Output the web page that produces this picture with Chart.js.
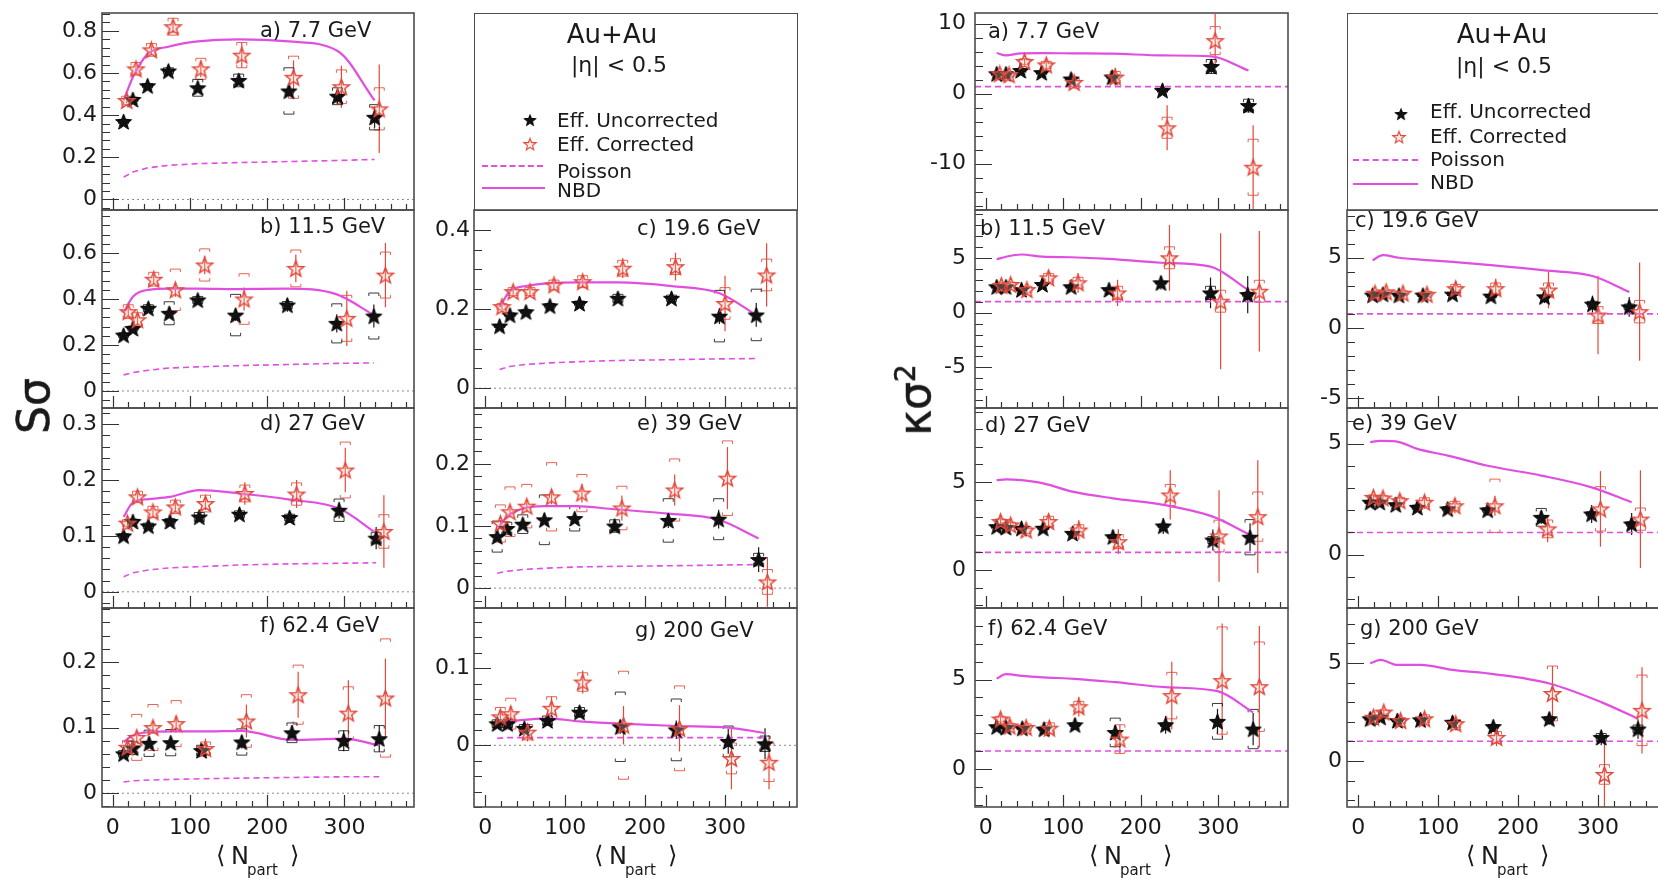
<!DOCTYPE html>
<html>
<head>
<meta charset="utf-8">
<script src="https://cdn.jsdelivr.net/npm/chart.js@4.4.1/dist/chart.umd.min.js"></script>
<style>
    html, body { margin: 0; padding: 0; background: #fff; }
    body { width: 1658px; height: 879px; overflow: hidden; position: relative; font-family: 'DejaVu Sans', sans-serif; color: #1a1a1a; }
    canvas.panel { position: absolute; }
    .box { position: absolute; border: 1.6px solid #4d4d4d; box-sizing: border-box; }
    .txt { position: absolute; white-space: nowrap; line-height: 1; font-size: 20px; }
    .c { transform: translate(-50%, -50%); }
    .l { transform: translateY(-50%); }
    .ln { position: absolute; height: 0; border-top: 2px solid #e04fe0; }
    .ln.dash { border-top-style: dashed; }
    .ytitle { font-size: 44px; transform: translate(-50%, -50%) rotate(-90deg); -webkit-text-stroke: 0.6px #1a1a1a; }
    .ytitle sup { font-size: 28px; vertical-align: 0.55em; line-height: 0; }
    .xt { position: absolute; font-size: 24px; line-height: 1; }
    .xt span { position: absolute; white-space: nowrap; }
    .xt .sub { font-size: 15px; }
    .mark { position: absolute; }
</style>
</head>
<body>

<div class="txt ytitle" style="left:34px; top:406px;">Sσ</div>
<div class="txt ytitle" style="left:915px; top:400px;">κσ<sup>2</sup></div>

<div class="box" style="left:474px; top:13px; width:324px; height:198px;"></div>
<div class="txt c" style="left:612px; top:34px; font-size:26px;">Au+Au</div>
<div class="txt c" style="left:619px; top:65px; font-size:22px;">|η| &lt; 0.5</div>
<div class="txt l" style="left:557px; top:120px;">Eff. Uncorrected</div>
<div class="txt l" style="left:557px; top:144px;">Eff. Corrected</div>
<div class="ln dash" style="left:482px; top:165px; width:61px;"></div>
<div class="txt l" style="left:557px; top:171px;">Poisson</div>
<div class="ln" style="left:482px; top:187px; width:63px;"></div>
<div class="txt l" style="left:557px; top:190px;">NBD</div>

<div class="box" style="left:1347px; top:13px; width:330px; height:198px;"></div>
<div class="txt c" style="left:1502px; top:34px; font-size:26px;">Au+Au</div>
<div class="txt c" style="left:1504px; top:66px; font-size:22px;">|η| &lt; 0.5</div>
<div class="txt l" style="left:1430px; top:111px;">Eff. Uncorrected</div>
<div class="txt l" style="left:1430px; top:136px;">Eff. Corrected</div>
<div class="ln dash" style="left:1353px; top:159px; width:65px;"></div>
<div class="txt l" style="left:1430px; top:159px;">Poisson</div>
<div class="ln" style="left:1353px; top:183px; width:65px;"></div>
<div class="txt l" style="left:1430px; top:182px;">NBD</div>

<script>
// <Npart> per centrality class, peripheral -> central
const npart77 = [14, 26, 45, 72, 110, 163, 228, 291, 339];
const npart115 = [14, 26, 46, 73, 110, 159, 226, 290, 338];
const npart196 = [18, 31, 51, 81, 118, 166, 233, 293, 339];
const npart27 = [14, 26, 46, 74, 112, 164, 229, 293, 341];
const npart39 = [15, 27, 47, 74, 112, 162, 229, 292, 342];
const npart624 = [14, 26, 47, 75, 115, 167, 232, 299, 345];
const npart200 = [15, 28, 49, 78, 118, 169, 239, 304, 350];

// corrected points are plotted slightly shifted in Npart
const npartCor77 = [18, 30, 50, 78, 114, 167, 234, 296, 345];
const npartCor115 = [20, 32, 53, 81, 119, 170, 237, 303, 353];
const npartCor196 = [21, 35, 56, 86, 122, 172, 238, 300, 352];
const npartCor27 = [19, 32, 52, 81, 120, 171, 238, 301, 351];
const npartCor39 = [19, 31, 52, 83, 121, 171, 237, 303, 353];
const npartCor624 = [19, 31, 52, 82, 120, 173, 240, 305, 353];
const npartCor200 = [19, 32, 53, 83, 122, 173, 243, 308, 355];

// S*sigma
const sUnc77 = [0.37, 0.475, 0.54, 0.61, 0.53, 0.565, 0.515, 0.49, 0.39];
const sUncErr77 = [0.01, 0.01, 0.01, 0.015, 0.015, 0.02, 0.025, 0.035, 0.05];
const sUncSys77 = [0.01, 0.01, 0.01, 0.015, 0.04, 0.03, 0.11, 0.04, 0.06];
const sCor77 = [0.47, 0.62, 0.71, 0.82, 0.62, 0.685, 0.58, 0.535, 0.43];
const sCorErr77 = [0.015, 0.02, 0.02, 0.03, 0.04, 0.06, 0.08, 0.1, 0.21];
const sCorSys77 = [0.02, 0.03, 0.03, 0.04, 0.05, 0.06, 0.1, 0.08, 0.1];
const nbdS77 = [0.47, 0.58, 0.69, 0.725, 0.75, 0.76, 0.75, 0.705, 0.47];
const poisS77 = [0.106, 0.13, 0.15, 0.162, 0.17, 0.175, 0.18, 0.185, 0.19];

const sUnc115 = [0.243, 0.272, 0.36, 0.338, 0.396, 0.33, 0.374, 0.294, 0.326];
const sUncErr115 = [0.01, 0.01, 0.012, 0.015, 0.02, 0.025, 0.03, 0.04, 0.05];
const sUncSys115 = [0.01, 0.01, 0.015, 0.05, 0.015, 0.09, 0.015, 0.085, 0.1];
const sCor115 = [0.345, 0.31, 0.486, 0.44, 0.548, 0.40, 0.533, 0.316, 0.504];
const sCorErr115 = [0.02, 0.02, 0.02, 0.03, 0.04, 0.05, 0.06, 0.12, 0.14];
const sCorSys115 = [0.03, 0.03, 0.03, 0.09, 0.07, 0.11, 0.08, 0.1, 0.1];
const nbdS115 = [0.34, 0.41, 0.44, 0.445, 0.445, 0.443, 0.445, 0.42, 0.33];
const poisS115 = [0.07, 0.08, 0.09, 0.1, 0.105, 0.11, 0.115, 0.12, 0.122];

const sUnc196 = [0.157, 0.185, 0.193, 0.208, 0.214, 0.227, 0.227, 0.182, 0.185];
const sUncErr196 = [0.004, 0.004, 0.005, 0.006, 0.007, 0.009, 0.012, 0.02, 0.03];
const sUncSys196 = [0.004, 0.005, 0.005, 0.006, 0.006, 0.01, 0.008, 0.065, 0.065];
const sCor196 = [0.206, 0.244, 0.244, 0.261, 0.269, 0.303, 0.307, 0.214, 0.286];
const sCorErr196 = [0.006, 0.008, 0.01, 0.012, 0.015, 0.025, 0.035, 0.07, 0.08];
const sCorSys196 = [0.008, 0.01, 0.01, 0.012, 0.015, 0.02, 0.02, 0.04, 0.04];
const nbdS196 = [0.205, 0.245, 0.258, 0.265, 0.267, 0.267, 0.258, 0.24, 0.185];
const poisS196 = [0.047, 0.055, 0.06, 0.064, 0.067, 0.07, 0.072, 0.074, 0.075];

const sUnc27 = [0.1, 0.126, 0.118, 0.126, 0.134, 0.139, 0.133, 0.146, 0.096];
const sUncErr27 = [0.004, 0.004, 0.004, 0.005, 0.006, 0.008, 0.01, 0.015, 0.02];
const sUncSys27 = [0.004, 0.004, 0.005, 0.005, 0.008, 0.006, 0.006, 0.02, 0.01];
const sCor27 = [0.123, 0.17, 0.143, 0.152, 0.158, 0.176, 0.175, 0.218, 0.108];
const sCorErr27 = [0.005, 0.008, 0.008, 0.01, 0.012, 0.02, 0.025, 0.04, 0.065];
const sCorSys27 = [0.006, 0.01, 0.01, 0.012, 0.015, 0.015, 0.02, 0.05, 0.03];
const nbdS27 = [0.134, 0.16, 0.166, 0.17, 0.182, 0.176, 0.165, 0.149, 0.105];
const poisS27 = [0.027, 0.034, 0.039, 0.043, 0.045, 0.048, 0.05, 0.051, 0.052];

const sUnc39 = [0.083, 0.096, 0.103, 0.11, 0.112, 0.1, 0.109, 0.111, 0.046];
const sUncErr39 = [0.004, 0.004, 0.005, 0.006, 0.007, 0.009, 0.012, 0.015, 0.02];
const sUncSys39 = [0.025, 0.01, 0.015, 0.04, 0.02, 0.01, 0.035, 0.033, 0.01];
const sCor39 = [0.104, 0.123, 0.132, 0.147, 0.153, 0.129, 0.158, 0.177, 0.01];
const sCorErr39 = [0.006, 0.008, 0.01, 0.012, 0.015, 0.02, 0.025, 0.05, 0.04];
const sCorSys39 = [0.03, 0.04, 0.035, 0.055, 0.03, 0.035, 0.05, 0.06, 0.02];
const nbdS39 = [0.094, 0.115, 0.128, 0.132, 0.132, 0.127, 0.12, 0.11, 0.08];
const poisS39 = [0.024, 0.027, 0.03, 0.032, 0.034, 0.035, 0.036, 0.037, 0.038];

const sUnc624 = [0.06, 0.069, 0.076, 0.077, 0.065, 0.078, 0.092, 0.08, 0.083];
const sUncErr624 = [0.004, 0.004, 0.005, 0.006, 0.008, 0.01, 0.012, 0.016, 0.02];
const sUncSys624 = [0.005, 0.01, 0.02, 0.02, 0.008, 0.02, 0.015, 0.015, 0.02];
const sCor624 = [0.07, 0.085, 0.1, 0.106, 0.068, 0.11, 0.15, 0.122, 0.145];
const sCorErr624 = [0.006, 0.008, 0.01, 0.012, 0.015, 0.025, 0.035, 0.05, 0.06];
const sCorSys624 = [0.01, 0.035, 0.035, 0.035, 0.01, 0.04, 0.045, 0.04, 0.09];
const nbdS624 = [0.078, 0.088, 0.093, 0.094, 0.094, 0.095, 0.081, 0.083, 0.073];
const poisS624 = [0.017, 0.019, 0.02, 0.021, 0.022, 0.023, 0.024, 0.025, 0.025];

const sUnc200 = [0.028, 0.028, 0.022, 0.032, 0.043, 0.024, 0.02, 0.005, 0.002];
const sUncErr200 = [0.004, 0.004, 0.005, 0.006, 0.007, 0.009, 0.012, 0.016, 0.02];
const sUncSys200 = [0.005, 0.005, 0.005, 0.006, 0.006, 0.045, 0.04, 0.02, 0.01];
const sCor200 = [0.037, 0.041, 0.017, 0.048, 0.082, 0.026, 0.022, -0.017, -0.022];
const sCorErr200 = [0.008, 0.01, 0.012, 0.015, 0.015, 0.025, 0.03, 0.04, 0.035];
const sCorSys200 = [0.012, 0.02, 0.01, 0.015, 0.012, 0.07, 0.055, 0.02, 0.025];
const nbdS200 = [0.029, 0.031, 0.033, 0.035, 0.031, 0.028, 0.025, 0.023, 0.016];
const poisS200 = [0.009, 0.01, 0.01, 0.01, 0.01, 0.01, 0.01, 0.01, 0.01];

// kappa*sigma^2
const kUnc77 = [2.84, 2.84, 3.3, 3.0, 2.08, 2.37, 0.47, 3.87, -1.7];
const kUncErr77 = [0.2, 0.2, 0.25, 0.3, 0.35, 0.45, 0.6, 1.0, 1.0];
const kUncSys77 = [0.1, 0.1, 0.1, 0.1, 0.1, 0.1, 0.1, 1.0, 0.9];
const kCor77 = [2.84, 2.7, 4.58, 4.1, 1.6, 2.37, -4.87, 7.56, -10.5];
const kCorErr77 = [0.3, 0.4, 0.5, 0.7, 0.9, 1.3, 3.2, 3.8, 6.0];
const kCorSys77 = [0.2, 0.3, 0.4, 0.5, 0.6, 0.8, 1.5, 2.0, 4.0];
const nbdK77 = [5.8, 5.45, 5.75, 5.78, 5.75, 5.7, 5.45, 5.3, 3.3];

const kUnc115 = [2.36, 2.36, 2.1, 2.57, 2.36, 2.1, 2.72, 1.8, 1.65];
const kUncErr115 = [0.15, 0.15, 0.2, 0.25, 0.3, 0.4, 0.6, 1.4, 1.7];
const kUncSys115 = [0.1, 0.1, 0.1, 0.1, 0.1, 0.1, 0.1, 0.6, 0.2];
const kCor115 = [2.48, 2.57, 2.1, 3.18, 2.72, 1.8, 5.0, 1.04, 1.95];
const kCorErr115 = [0.3, 0.3, 0.4, 0.6, 0.9, 1.2, 3.0, 6.2, 5.5];
const kCorSys115 = [0.2, 0.2, 0.3, 0.4, 0.5, 0.6, 1.0, 1.0, 1.0];
const nbdK115 = [4.86, 5.1, 5.3, 5.1, 5.05, 4.9, 4.55, 4.2, 2.1];

const kUnc196 = [2.34, 2.41, 2.34, 2.34, 2.41, 2.27, 2.22, 1.7, 1.5];
const kUncErr196 = [0.15, 0.15, 0.2, 0.25, 0.3, 0.35, 0.45, 0.6, 0.7];
const kUncSys196 = [0.05, 0.05, 0.05, 0.1, 0.1, 0.1, 0.1, 0.2, 0.2];
const kCor196 = [2.48, 2.57, 2.48, 2.4, 2.8, 2.8, 2.7, 0.92, 1.16];
const kCorErr196 = [0.2, 0.25, 0.3, 0.4, 0.5, 0.7, 1.3, 2.8, 3.5];
const kCorSys196 = [0.1, 0.1, 0.15, 0.2, 0.3, 0.4, 0.5, 0.6, 0.8];
const nbdK196 = [4.82, 5.18, 5.0, 4.85, 4.7, 4.47, 4.1, 3.7, 2.57];

const kUnc27 = [2.46, 2.42, 2.37, 2.37, 2.08, 1.89, 2.5, 1.7, 1.86];
const kUncErr27 = [0.15, 0.15, 0.2, 0.25, 0.3, 0.35, 0.45, 0.6, 0.8];
const kUncSys27 = [0.05, 0.05, 0.05, 0.1, 0.1, 0.1, 0.1, 0.2, 1.0];
const kCor27 = [2.75, 2.56, 2.27, 2.75, 2.27, 1.61, 4.26, 1.93, 3.03];
const kCorErr27 = [0.25, 0.3, 0.35, 0.45, 0.55, 0.7, 1.4, 2.6, 3.2];
const kCorSys27 = [0.15, 0.15, 0.2, 0.3, 0.3, 0.4, 0.6, 0.9, 1.4];
const nbdK27 = [5.1, 5.15, 5.1, 4.92, 4.45, 4.07, 3.7, 3.03, 1.99];

const kUnc39 = [2.36, 2.36, 2.25, 2.13, 2.06, 2.01, 1.68, 1.83, 1.38];
const kUncErr39 = [0.1, 0.1, 0.12, 0.15, 0.2, 0.25, 0.3, 0.4, 0.5];
const kUncSys39 = [0.05, 0.05, 0.05, 0.1, 0.1, 0.1, 0.4, 0.1, 0.1];
const kCor39 = [2.58, 2.55, 2.43, 2.36, 2.2, 2.2, 1.16, 2.06, 1.6];
const kCorErr39 = [0.15, 0.2, 0.25, 0.3, 0.35, 0.45, 0.6, 1.7, 2.2];
const kCorSys39 = [0.1, 0.1, 0.15, 0.2, 0.2, 1.2, 0.4, 1.0, 0.5];
const nbdK39 = [5.06, 5.12, 5.1, 4.76, 4.46, 4.0, 3.56, 3.03, 2.36];

const kUnc624 = [2.36, 2.32, 2.28, 2.23, 2.47, 2.04, 2.47, 2.66, 2.23];
const kUncErr624 = [0.15, 0.15, 0.2, 0.25, 0.3, 0.4, 0.5, 0.7, 0.9];
const kUncSys624 = [0.05, 0.05, 0.05, 0.1, 0.1, 0.8, 0.1, 1.0, 1.1];
const kCor624 = [2.79, 2.4, 2.32, 2.28, 3.48, 1.67, 4.1, 4.94, 4.6];
const kCorErr624 = [0.25, 0.3, 0.35, 0.45, 0.55, 0.8, 1.9, 3.2, 3.4];
const kCorSys624 = [0.15, 0.15, 0.2, 0.3, 0.3, 0.8, 1.3, 3.0, 2.5];
const nbdK624 = [5.05, 5.3, 5.2, 5.12, 5.04, 4.85, 4.57, 4.35, 3.16];

const kUnc200 = [2.15, 2.23, 2.06, 2.1, 1.97, 1.75, 2.15, 1.2, 1.63];
const kUncErr200 = [0.1, 0.1, 0.12, 0.15, 0.2, 0.25, 0.3, 0.4, 0.5];
const kUncSys200 = [0.05, 0.05, 0.05, 0.1, 0.1, 0.1, 0.1, 0.2, 0.2];
const kCor200 = [2.23, 2.49, 2.06, 2.15, 1.9, 1.2, 3.44, -0.69, 2.58];
const kCorErr200 = [0.15, 0.2, 0.25, 0.3, 0.35, 0.45, 1.4, 1.9, 2.2];
const kCorSys200 = [0.1, 0.1, 0.15, 0.2, 0.2, 0.3, 1.4, 0.5, 1.8];
const nbdK200 = [4.98, 5.15, 4.9, 4.9, 4.64, 4.43, 3.95, 3.0, 2.15];

const poissonKappa = 1;

// axis ticks
const xRange = [-14, 390];
const xTicks = [0, 100, 200, 300];
const xMinor = 20;
const yTicksS77 = [0, 0.2, 0.4, 0.6, 0.8];
const yTicksS115 = [0, 0.2, 0.4, 0.6];
const yTicksS196 = [0, 0.2, 0.4];
const yTicksS27 = [0, 0.1, 0.2, 0.3];
const yTicksS39 = [0, 0.1, 0.2];
const yTicksS624 = [0, 0.1, 0.2];
const yTicksS200 = [0, 0.1];
const yTicksK77 = [-10, 0, 10];
const yTicksK115 = [-5, 0, 5];
const yTicksK196 = [-5, 0, 5];
const yTicksK27 = [0, 5];
const yTicksK39 = [0, 5];
const yTicksK624 = [0, 5];
const yTicksK200 = [0, 5];

var uncColor = '#1a1a1a';
var corColor = 'rgb(226, 72, 58)';
var nbdColor = '#e04fe0';
var frameColor = '#4d4d4d';
var textColor = '#1a1a1a';
var tickFont = { family: 'DejaVu Sans', size: 22 };

var col1 = [102, 414], col2 = [474, 797], col3 = [975, 1288], col4 = [1347, 1670];
var row1 = [13, 210], row2 = [210, 408], row3 = [408, 608], row4 = [608, 807];

function frameOf(col, row) {
    return [col[0], row[0], col[1], row[1]];
}

var panels = [
    { frame: frameOf(col1, row1), yRange: [-0.05, 0.885], yTicks: yTicksS77, minor: 0.04, gap: 5, zero: true,
      label: 'a) 7.7 GeV', lx: 158, ly: 19, n: npart77, nc: npartCor77,
      unc: sUnc77, uncErr: sUncErr77, uncSys: sUncSys77, cor: sCor77, corErr: sCorErr77, corSys: sCorSys77, nbd: nbdS77, pois: poisS77 },
    { frame: frameOf(col1, row2), yRange: [-0.074, 0.787], yTicks: yTicksS115, minor: 0.04, gap: 5, zero: true,
      label: 'b) 11.5 GeV', lx: 158, ly: 18, n: npart115, nc: npartCor115,
      unc: sUnc115, uncErr: sUncErr115, uncSys: sUncSys115, cor: sCor115, corErr: sCorErr115, corSys: sCorSys115, nbd: nbdS115, pois: poisS115 },
    { frame: frameOf(col1, row3), yRange: [-0.029, 0.329], yTicks: yTicksS27, minor: 0.02, gap: 5, zero: true,
      label: 'd) 27 GeV', lx: 158, ly: 17, n: npart27, nc: npartCor27,
      unc: sUnc27, uncErr: sUncErr27, uncSys: sUncSys27, cor: sCor27, corErr: sCorErr27, corSys: sCorSys27, nbd: nbdS27, pois: poisS27 },
    { frame: frameOf(col1, row4), yRange: [-0.021, 0.282], yTicks: yTicksS624, minor: 0.02, gap: 5, zero: true, bottom: true,
      label: 'f) 62.4 GeV', lx: 158, ly: 19, n: npart624, nc: npartCor624,
      unc: sUnc624, uncErr: sUncErr624, uncSys: sUncSys624, cor: sCor624, corErr: sCorErr624, corSys: sCorSys624, nbd: nbdS624, pois: poisS624 },
    { frame: frameOf(col2, row2), yRange: [-0.05, 0.45], yTicks: yTicksS196, minor: 0.05, gap: 4, zero: true,
      label: 'c) 19.6 GeV', lx: 163, ly: 20, n: npart196, nc: npartCor196,
      unc: sUnc196, uncErr: sUncErr196, uncSys: sUncSys196, cor: sCor196, corErr: sCorErr196, corSys: sCorSys196, nbd: nbdS196, pois: poisS196 },
    { frame: frameOf(col2, row3), yRange: [-0.032, 0.29], yTicks: yTicksS39, minor: 0.02, gap: 4, zero: true,
      label: 'e) 39 GeV', lx: 163, ly: 17, n: npart39, nc: npartCor39,
      unc: sUnc39, uncErr: sUncErr39, uncSys: sUncSys39, cor: sCor39, corErr: sCorErr39, corSys: sCorSys39, nbd: nbdS39, pois: poisS39 },
    { frame: frameOf(col2, row4), yRange: [-0.08, 0.178], yTicks: yTicksS200, minor: 0.02, gap: 4, zero: true, bottom: true,
      label: 'g) 200 GeV', lx: 161, ly: 24, n: npart200, nc: npartCor200,
      unc: sUnc200, uncErr: sUncErr200, uncSys: sUncSys200, cor: sCor200, corErr: sCorErr200, corSys: sCorSys200, nbd: nbdS200, pois: poisS200 },

    { frame: frameOf(col3, row1), yRange: [-16.6, 11.5], yTicks: yTicksK77, minor: 2, gap: 9,
      label: 'a) 7.7 GeV', lx: 13, ly: 20, n: npart77, nc: npartCor77,
      unc: kUnc77, uncErr: kUncErr77, uncSys: kUncSys77, cor: kCor77, corErr: kCorErr77, corSys: kCorSys77, nbd: nbdK77 },
    { frame: frameOf(col3, row2), yRange: [-8.7, 9.36], yTicks: yTicksK115, minor: 1, gap: 9,
      label: 'b) 11.5 GeV', lx: 5, ly: 20, n: npart115, nc: npartCor115,
      unc: kUnc115, uncErr: kUncErr115, uncSys: kUncSys115, cor: kCor115, corErr: kCorErr115, corSys: kCorSys115, nbd: nbdK115 },
    { frame: frameOf(col3, row3), yRange: [-2.16, 9.2], yTicks: yTicksK27, minor: 1, gap: 9,
      label: 'd) 27 GeV', lx: 10, ly: 19, n: npart27, nc: npartCor27,
      unc: kUnc27, uncErr: kUncErr27, uncSys: kUncSys27, cor: kCor27, corErr: kCorErr27, corSys: kCorSys27, nbd: nbdK27 },
    { frame: frameOf(col3, row4), yRange: [-2.13, 9.0], yTicks: yTicksK624, minor: 1, gap: 9, bottom: true,
      label: 'f) 62.4 GeV', lx: 13, ly: 22, n: npart624, nc: npartCor624,
      unc: kUnc624, uncErr: kUncErr624, uncSys: kUncSys624, cor: kCor624, corErr: kCorErr624, corSys: kCorSys624, nbd: nbdK624 },
    { frame: frameOf(col4, row2), yRange: [-5.7, 8.4], yTicks: yTicksK196, minor: 1, gap: 5,
      label: 'c) 19.6 GeV', lx: 8, ly: 12, n: npart196, nc: npartCor196,
      unc: kUnc196, uncErr: kUncErr196, uncSys: kUncSys196, cor: kCor196, corErr: kCorErr196, corSys: kCorSys196, nbd: nbdK196 },
    { frame: frameOf(col4, row3), yRange: [-2.4, 6.6], yTicks: yTicksK39, minor: 1, gap: 5,
      label: 'e) 39 GeV', lx: 5, ly: 17, n: npart39, nc: npartCor39,
      unc: kUnc39, uncErr: kUncErr39, uncSys: kUncSys39, cor: kCor39, corErr: kCorErr39, corSys: kCorSys39, nbd: nbdK39 },
    { frame: frameOf(col4, row4), yRange: [-2.35, 7.8], yTicks: yTicksK200, minor: 1, gap: 5, bottom: true,
      label: 'g) 200 GeV', lx: 13, ly: 22, n: npart200, nc: npartCor200,
      unc: kUnc200, uncErr: kUncErr200, uncSys: kUncSys200, cor: kCor200, corErr: kCorErr200, corSys: kCorSys200, nbd: nbdK200 }
];

function makeStar(R, fill, stroke, lineWidth)
{
    var size = Math.ceil(2 * R + 4);
    var c = document.createElement('canvas');
    c.width = size;
    c.height = size;
    var ctx = c.getContext('2d');
    var cx = size / 2, cy = size / 2 + R * 0.1, r = R * 0.42;
    ctx.beginPath();
    for (var i = 0; i < 10; i++) {
        var rad = i % 2 ? r : R;
        var a = -Math.PI / 2 + i * Math.PI / 5;
        ctx.lineTo(cx + rad * Math.cos(a), cy + rad * Math.sin(a));
    }
    ctx.closePath();
    ctx.fillStyle = fill;
    ctx.fill();
    ctx.lineJoin = 'miter';
    ctx.lineWidth = lineWidth;
    ctx.strokeStyle = stroke;
    ctx.stroke();
    return c;
}

var blackStar = makeStar(8.4, '#111', '#000', 1);
var redStar = makeStar(8.4, 'rgba(255, 190, 180, 0.3)', corColor, 1.5);

function pts(xs, ys)
{
    return xs.map(function (x, i) { return { x: x, y: ys[i] }; });
}

// stat. error bars and [ ] brackets for systematics
function drawErrors(ctx, xs, ys, ds)
{
    ds.data.forEach(function (p, i) {
        var px = xs.getPixelForValue(p.x);
        var e = ds.errs[i], s = ds.sys[i];
        ctx.strokeStyle = ds.errColor;
        ctx.lineWidth = 1.2;
        ctx.beginPath();
        ctx.moveTo(px, ys.getPixelForValue(p.y - e));
        ctx.lineTo(px, ys.getPixelForValue(p.y + e));
        ctx.stroke();

        var top = ys.getPixelForValue(p.y + s);
        var bot = ys.getPixelForValue(p.y - s);
        var w = 5, h = 3;
        ctx.lineWidth = 1;
        ctx.globalAlpha = 0.85;
        ctx.beginPath();
        ctx.moveTo(px - w, top + h);
        ctx.lineTo(px - w, top);
        ctx.lineTo(px + w, top);
        ctx.lineTo(px + w, top + h);
        ctx.moveTo(px - w, bot - h);
        ctx.lineTo(px - w, bot);
        ctx.lineTo(px + w, bot);
        ctx.lineTo(px + w, bot - h);
        ctx.stroke();
        ctx.globalAlpha = 1;
    });
}

function framePlugin(p)
{
    return {
        id: 'rootFrame',
        beforeDatasetsDraw: function (chart) {
            var ctx = chart.ctx, a = chart.chartArea;
            var xs = chart.scales.x, ys = chart.scales.y;
            ctx.save();
            ctx.beginPath();
            ctx.rect(a.left, a.top, a.right - a.left, a.bottom - a.top);
            ctx.clip();
            if (p.zero) {
                var y0 = ys.getPixelForValue(0);
                ctx.setLineDash([2, 3]);
                ctx.strokeStyle = '#8a8a8a';
                ctx.lineWidth = 1;
                ctx.beginPath();
                ctx.moveTo(a.left, y0);
                ctx.lineTo(a.right, y0);
                ctx.stroke();
                ctx.setLineDash([]);
            }
            chart.data.datasets.forEach(function (ds) {
                if (ds.errs)
                    drawErrors(ctx, xs, ys, ds);
            });
            ctx.restore();
        },
        afterDraw: function (chart) {
            var ctx = chart.ctx, a = chart.chartArea;
            var xs = chart.scales.x, ys = chart.scales.y;
            ctx.save();
            ctx.strokeStyle = '#333';
            ctx.lineWidth = 1.2;

            // ticks point into the frame
            var major = p.yTicks[1] - p.yTicks[0];
            var from = Math.ceil(p.yRange[0] / p.minor - 1e-6);
            var to = Math.floor(p.yRange[1] / p.minor + 1e-6);
            ctx.beginPath();
            for (var k = from; k <= to; k++) {
                var v = k * p.minor;
                var q = v / major;
                var len = Math.abs(q - Math.round(q)) < 1e-6 ? 17 : 8;
                var py = Math.round(ys.getPixelForValue(v)) + 0.5;
                ctx.moveTo(a.left, py);
                ctx.lineTo(a.left + len, py);
            }
            for (var xv = 0; xv <= xRange[1]; xv += xMinor) {
                var l = xv % 100 === 0 ? 12 : 6;
                var px = Math.round(xs.getPixelForValue(xv)) + 0.5;
                ctx.moveTo(px, a.bottom);
                ctx.lineTo(px, a.bottom - l);
            }
            ctx.stroke();

            ctx.strokeStyle = frameColor;
            ctx.lineWidth = 1.6;
            ctx.strokeRect(a.left, a.top, a.right - a.left, a.bottom - a.top);

            ctx.fillStyle = textColor;
            ctx.font = '21px "DejaVu Sans"';
            ctx.textAlign = 'left';
            ctx.textBaseline = 'middle';
            ctx.fillText(p.label, a.left + p.lx, a.top + p.ly);
            ctx.restore();
        }
    };
}

function buildPanel(p)
{
    var padL = 70, padR = 6, padT = 6;
    var padB = p.bottom ? 50 : 6;
    var fw = p.frame[2] - p.frame[0], fh = p.frame[3] - p.frame[1];
    var canvas = document.createElement('canvas');
    canvas.className = 'panel';
    canvas.width = fw + padL + padR;
    canvas.height = fh + padT + padB;
    canvas.style.width = canvas.width + 'px';
    canvas.style.height = canvas.height + 'px';
    canvas.style.left = (p.frame[0] - padL) + 'px';
    canvas.style.top = (p.frame[1] - padT) + 'px';
    document.body.insertBefore(canvas, document.body.firstChild);

    var poisson = p.pois ? pts(p.n, p.pois)
            : [{ x: xRange[0], y: poissonKappa }, { x: xRange[1], y: poissonKappa }];

    return new Chart(canvas, {
        type: 'scatter',
        data: {
            datasets: [{
                    label: 'Eff. Corrected',
                    data: pts(p.nc, p.cor),
                    pointStyle: redStar,
                    errs: p.corErr,
                    sys: p.corSys,
                    errColor: corColor
                }, {
                    label: 'Eff. Uncorrected',
                    data: pts(p.n, p.unc),
                    pointStyle: blackStar,
                    errs: p.uncErr,
                    sys: p.uncSys,
                    errColor: uncColor
                }, {
                    label: 'NBD',
                    data: pts(p.n, p.nbd),
                    showLine: true,
                    borderColor: nbdColor,
                    borderWidth: 2.2,
                    pointRadius: 0,
                    cubicInterpolationMode: 'monotone'
                }, {
                    label: 'Poisson',
                    data: poisson,
                    showLine: true,
                    borderColor: nbdColor,
                    borderWidth: 1.6,
                    borderDash: [6, 4],
                    pointRadius: 0
                }]
        },
        options: {
            responsive: false,
            maintainAspectRatio: false,
            animation: false,
            devicePixelRatio: 1,
            events: [],
            layout: {
                padding: { left: 0, right: padR, top: padT, bottom: 0 }
            },
            plugins: {
                legend: { display: false },
                tooltip: { enabled: false }
            },
            scales: {
                x: {
                    type: 'linear',
                    min: xRange[0],
                    max: xRange[1],
                    grid: { display: false, drawTicks: false },
                    border: { display: false },
                    afterBuildTicks: function (s) {
                        s.ticks = xTicks.map(function (v) { return { value: v }; });
                    },
                    afterFit: function (s) {
                        s.height = padB;
                        s.paddingLeft = 0;
                        s.paddingRight = 0;
                    },
                    ticks: {
                        display: !!p.bottom,
                        autoSkip: false,
                        maxRotation: 0,
                        padding: 8,
                        font: tickFont,
                        color: textColor,
                        callback: function (v) { return String(v); }
                    }
                },
                y: {
                    type: 'linear',
                    min: p.yRange[0],
                    max: p.yRange[1],
                    grid: { display: false, drawTicks: false },
                    border: { display: false },
                    afterBuildTicks: function (s) {
                        s.ticks = p.yTicks.map(function (v) { return { value: v }; });
                    },
                    afterFit: function (s) {
                        s.width = padL;
                        s.paddingTop = 0;
                        s.paddingBottom = 0;
                    },
                    ticks: {
                        autoSkip: false,
                        padding: p.gap,
                        font: tickFont,
                        color: textColor,
                        callback: function (v) { return String(v); }
                    }
                }
            }
        },
        plugins: [framePlugin(p)]
    });
}

function addXTitle(cx)
{
    var d = document.createElement('div');
    d.className = 'xt';
    d.style.left = cx + 'px';
    d.style.top = '844px';
    d.innerHTML = '<span style="left:-41px; top:-1px">⟨</span>' +
            '<span style="left:-26px">N</span>' +
            '<span class="sub" style="left:-10px; top:19px">part</span>' +
            '<span style="left:33px; top:-1px">⟩</span>';
    document.body.appendChild(d);
}

function addMark(star, cx, cy, scale)
{
    var c = document.createElement('canvas');
    c.width = star.width;
    c.height = star.height;
    c.getContext('2d').drawImage(star, 0, 0);
    c.className = 'mark';
    c.style.width = (star.width * scale) + 'px';
    c.style.height = (star.height * scale) + 'px';
    c.style.left = (cx - star.width * scale / 2) + 'px';
    c.style.top = (cy - star.height * scale / 2) + 'px';
    document.body.appendChild(c);
}

panels.forEach(buildPanel);
[257, 635, 1130, 1507].forEach(addXTitle);

addMark(blackStar, 530, 120, 0.78);
addMark(redStar, 530, 144, 0.78);
addMark(blackStar, 1401, 114, 0.78);
addMark(redStar, 1399, 137, 0.78);
</script>
</body>
</html>
